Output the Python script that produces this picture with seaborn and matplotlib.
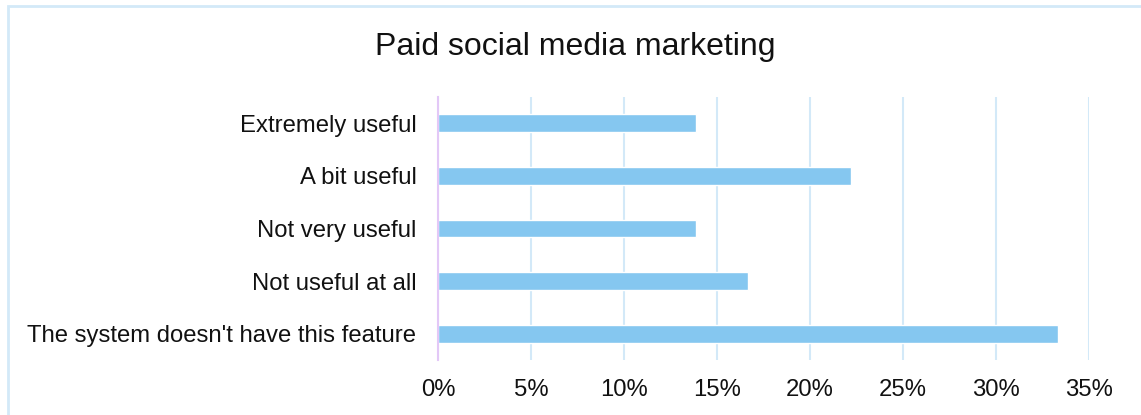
import matplotlib
matplotlib.use("Agg")
import matplotlib.pyplot as plt
import matplotlib.patches as mpatches
from matplotlib.ticker import PercentFormatter, MultipleLocator
import seaborn as sns
import pandas as pd

categories = [
    "Extremely useful",
    "A bit useful",
    "Not very useful",
    "Not useful at all",
    "The system doesn't have this feature",
]
shares = [13.89, 22.22, 13.89, 16.67, 33.33]
title = "Paid social media marketing"

df = pd.DataFrame({"category": categories, "share": shares})

sns.set_theme(style="white")
plt.rcParams["font.family"] = ["Liberation Sans", "DejaVu Sans"]

fig = plt.figure(figsize=(11.41, 4.15), dpi=100)
ax = fig.add_axes([438 / 1141, 1 - 360 / 415, (1089 - 438) / 1141, (360 - 97) / 415])

sns.barplot(data=df, x="share", y="category", color="#85c7f0", width=0.34,
            saturation=1, ax=ax, zorder=3)

ax.set_xlim(0, 35)
ax.xaxis.set_major_locator(MultipleLocator(5))
ax.xaxis.set_major_formatter(PercentFormatter(decimals=0))
ax.grid(axis="x", color="#d3e9f8", linewidth=1.5, zorder=0)
ax.grid(axis="y", visible=False)
for side in ["top", "right", "bottom"]:
    ax.spines[side].set_visible(False)
ax.spines["left"].set_color("#e3c8f7")
ax.spines["left"].set_linewidth(1.5)
ax.spines["left"].set_zorder(4)
ax.set_xlabel("")
ax.set_ylabel("")
ax.tick_params(axis="both", length=0, labelsize=17.2, colors="#111111")
ax.tick_params(axis="x", pad=14)
ax.tick_params(axis="y", pad=15.5)

fig.text(575.5 / 1141, 1 - 47 / 415, title, ha="center", va="center",
         fontsize=23, color="#111111")

# outer chart frame
fig.patches.append(mpatches.Rectangle((8 / 1141, -0.1), 1.2, 1 - 6 / 415 + 0.1,
                                      transform=fig.transFigure, fill=False,
                                      edgecolor="#d3e9f8", linewidth=2))

fig.savefig("out.png", dpi=100, facecolor="white")
